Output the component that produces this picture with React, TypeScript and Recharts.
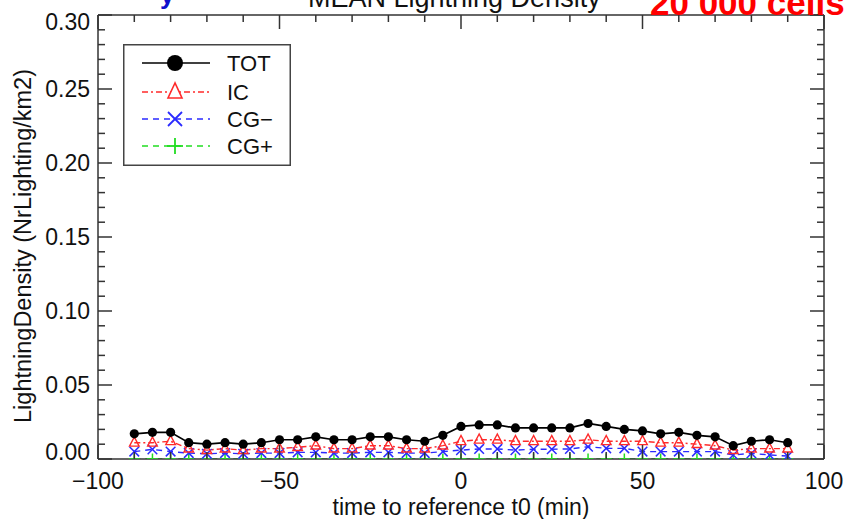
import React from 'react';
import { LineChart, Line, XAxis, YAxis, Legend } from 'recharts';

const times = [-90, -85, -80, -75, -70, -65, -60, -55, -50, -45, -40, -35, -30, -25, -20, -15, -10, -5, 0, 5, 10, 15, 20, 25, 30, 35, 40, 45, 50, 55, 60, 65, 70, 75, 80, 85, 90];
const tot = [0.017, 0.018, 0.018, 0.011, 0.010, 0.011, 0.010, 0.011, 0.013, 0.013, 0.015, 0.013, 0.013, 0.015, 0.015, 0.013, 0.012, 0.016, 0.022, 0.023, 0.023, 0.021, 0.021, 0.021, 0.021, 0.024, 0.022, 0.020, 0.019, 0.017, 0.018, 0.016, 0.015, 0.009, 0.012, 0.013, 0.011];
const ic = [0.011, 0.011, 0.012, 0.007, 0.006, 0.007, 0.006, 0.007, 0.007, 0.008, 0.009, 0.007, 0.007, 0.009, 0.009, 0.007, 0.007, 0.009, 0.012, 0.013, 0.013, 0.012, 0.012, 0.012, 0.012, 0.013, 0.012, 0.012, 0.012, 0.011, 0.011, 0.010, 0.009, 0.006, 0.007, 0.007, 0.007];
const cgMinus = [0.005, 0.0065, 0.005, 0.004, 0.0035, 0.004, 0.0035, 0.004, 0.004, 0.0045, 0.0045, 0.004, 0.004, 0.0045, 0.0045, 0.004, 0.004, 0.005, 0.006, 0.0068, 0.0068, 0.006, 0.0066, 0.0066, 0.0068, 0.0083, 0.0072, 0.0072, 0.005, 0.005, 0.005, 0.005, 0.005, 0.0027, 0.0038, 0.0027, 0.002];
const cgPlus = [0, 0, 0, 0, 0, 0, 0, 0, 0, 0, 0, 0, 0, 0, 0, 0, 0, 0, 0, 0, 0, 0, 0, 0, 0, 0, 0, 0, 0, 0, 0, 0, 0, 0, 0, 0, 0];

const seriesNames = ['TOT', 'IC', 'CG\u2212', 'CG+'];
const xTicks = [-100, -90, -80, -70, -60, -50, -40, -30, -20, -10, 0, 10, 20, 30, 40, 50, 60, 70, 80, 90, 100];
const xMajor = [-100, -50, 0, 50, 100];
const yTicks = [0, 0.01, 0.02, 0.03, 0.04, 0.05, 0.06, 0.07, 0.08, 0.09, 0.1, 0.11, 0.12, 0.13, 0.14, 0.15, 0.16, 0.17, 0.18, 0.19, 0.2, 0.21, 0.22, 0.23, 0.24, 0.25, 0.26, 0.27, 0.28, 0.29, 0.3];
const yMajor = [0, 0.05, 0.1, 0.15, 0.2, 0.25, 0.3];
const titleParts = ['y', 'MEAN Lightning Density', '20 000 cells'];
const xTitle = 'time to reference t0 (min)';
const yTitle = 'LightningDensity (NrLighting/km2)';

const data = times.map((t, i) => ({ t, TOT: tot[i], IC: ic[i], CGm: cgMinus[i], CGp: cgPlus[i] }));

const FONT = '"Liberation Sans", Arial, Helvetica, sans-serif';
const AX = '#333';
const RED = '#ff2a2a';
const BLUE = '#2a2aff';
const GREEN = '#22dd22';

const isMajorY = (v: number) => yMajor.some((m) => Math.abs(m - v) < 1e-9);
const fmtX = (v: number) => (v < 0 ? '\u2212' + Math.abs(v) : String(v));

const BottomTick = (p: any) => {
  const { x, y, payload } = p;
  const major = xMajor.includes(payload.value);
  return (
    <g>
      <line x1={x} x2={x} y1={y} y2={y - (major ? 14 : 7)} stroke={AX} strokeWidth={1.5} />
      {major && (
        <text x={x} y={y + 30} textAnchor="middle" fontSize={23} fontFamily={FONT} fill="#111">
          {fmtX(payload.value)}
        </text>
      )}
    </g>
  );
};
const TopTick = (p: any) => {
  const { x, y, payload } = p;
  const major = xMajor.includes(payload.value);
  return <line x1={x} x2={x} y1={y} y2={y + (major ? 14 : 7)} stroke={AX} strokeWidth={1.5} />;
};
const LeftTick = (p: any) => {
  const { x, y, payload } = p;
  const major = isMajorY(payload.value);
  const ly = Math.min(Math.max(y, 22), 452);
  return (
    <g>
      <line x1={x} x2={x + (major ? 14 : 7)} y1={y} y2={y} stroke={AX} strokeWidth={1.5} />
      {major && (
        <text x={x - 8} y={ly} textAnchor="end" dominantBaseline="central" fontSize={23} fontFamily={FONT} fill="#111">
          {payload.value.toFixed(2)}
        </text>
      )}
    </g>
  );
};
const RightTick = (p: any) => {
  const { x, y, payload } = p;
  const major = isMajorY(payload.value);
  return <line x1={x} x2={x - (major ? 14 : 7)} y1={y} y2={y} stroke={AX} strokeWidth={1.5} />;
};

const Circle = (p: any) => <circle cx={p.cx} cy={p.cy} r={4.6} fill="#000" />;
const Tri = (p: any) => {
  const { cx, cy } = p;
  const s = 4.8;
  return <polygon points={`${cx},${cy - s * 1.2} ${cx - s},${cy + s * 0.7} ${cx + s},${cy + s * 0.7}`} fill="none" stroke={RED} strokeWidth={1.4} />;
};
const Cross = (p: any) => {
  const { cx, cy } = p;
  const s = 4.8;
  return (
    <g stroke={BLUE} strokeWidth={1.5}>
      <line x1={cx - s} y1={cy - s} x2={cx + s} y2={cy + s} />
      <line x1={cx - s} y1={cy + s} x2={cx + s} y2={cy - s} />
    </g>
  );
};
const Plus = (p: any) => {
  const { cx, cy } = p;
  const s = 5.5;
  return (
    <g stroke={GREEN} strokeWidth={1.5}>
      <line x1={cx - s} y1={cy} x2={cx + s} y2={cy} />
      <line x1={cx} y1={cy - s} x2={cx} y2={cy + s} />
    </g>
  );
};

const LegendBox = () => {
  const rows = [19, 48, 75, 102];
  const styles = [
    { color: '#000', dash: undefined },
    { color: RED, dash: '6 3 2 3' },
    { color: BLUE, dash: '6 5' },
    { color: GREEN, dash: '6 5' },
  ];
  const mx = 52;
  return (
    <svg width={168} height={122} style={{ display: 'block' }}>
      <rect x={0.75} y={0.75} width={166.5} height={120.5} fill="#fff" stroke="#444" strokeWidth={1.5} />
      {seriesNames.map((n, i) => {
        const y = rows[i];
        const st = styles[i];
        let marker: React.ReactNode = null;
        if (i === 0) marker = <circle cx={mx} cy={y} r={8} fill="#000" />;
        if (i === 1) marker = <polygon points={`${mx},${y - 9} ${mx - 7},${y + 6} ${mx + 7},${y + 6}`} fill="#fff" stroke={RED} strokeWidth={1.6} />;
        if (i === 2)
          marker = (
            <g stroke={BLUE} strokeWidth={1.8}>
              <line x1={mx - 7} y1={y - 7} x2={mx + 7} y2={y + 7} />
              <line x1={mx - 7} y1={y + 7} x2={mx + 7} y2={y - 7} />
            </g>
          );
        if (i === 3)
          marker = (
            <g stroke={GREEN} strokeWidth={1.8}>
              <line x1={mx - 8} y1={y} x2={mx + 8} y2={y} />
              <line x1={mx} y1={y - 8} x2={mx} y2={y + 8} />
            </g>
          );
        return (
          <g key={n}>
            <line x1={19} x2={87} y1={y} y2={y} stroke={st.color} strokeWidth={1.5} strokeDasharray={st.dash} />
            {marker}
            <text x={104} y={y} dominantBaseline="central" fontSize={22} fontFamily={FONT} fill="#111">
              {n}
            </text>
          </g>
        );
      })}
    </svg>
  );
};

export default function App() {
  return (
    <div style={{ position: 'absolute', left: 0, top: 0, width: 846, height: 519, overflow: 'hidden', background: '#fff' }}>
      <LineChart width={846} height={519} data={data} margin={{ top: 14, right: 21, bottom: 59, left: 97 }}>
        <XAxis
          xAxisId="b"
          dataKey="t"
          type="number"
          domain={[-100, 100]}
          ticks={xTicks}
          interval={0}
          height={1}
          tickSize={0}
          tickMargin={0}
          tick={<BottomTick />}
          axisLine={{ stroke: AX, strokeWidth: 1.5 }}
          tickLine={false}
          allowDataOverflow
          label={{
            content: () => (
              <text x={461} y={515} textAnchor="middle" fontSize={23} fontFamily={FONT} fill="#111">
                {xTitle}
              </text>
            ),
          }}
        />
        <XAxis
          xAxisId="t"
          orientation="top"
          dataKey="t"
          type="number"
          domain={[-100, 100]}
          ticks={xTicks}
          interval={0}
          height={1}
          tickSize={0}
          tickMargin={0}
          tick={<TopTick />}
          axisLine={{ stroke: AX, strokeWidth: 1.5 }}
          tickLine={false}
          allowDataOverflow
        />
        <YAxis
          yAxisId="l"
          type="number"
          domain={[0, 0.3]}
          ticks={yTicks}
          interval={0}
          width={1}
          tickSize={0}
          tickMargin={0}
          tick={<LeftTick />}
          axisLine={{ stroke: AX, strokeWidth: 1.5 }}
          tickLine={false}
          allowDataOverflow
          label={{
            content: () => (
              <text x={23} y={246} transform="rotate(-90 23 246)" textAnchor="middle" dominantBaseline="central" fontSize={23.5} fontFamily={FONT} fill="#111">
                {yTitle}
              </text>
            ),
          }}
        />
        <YAxis
          yAxisId="r"
          orientation="right"
          type="number"
          domain={[0, 0.3]}
          ticks={yTicks}
          interval={0}
          width={1}
          tickSize={0}
          tickMargin={0}
          tick={<RightTick />}
          axisLine={{ stroke: AX, strokeWidth: 1.5 }}
          tickLine={false}
          allowDataOverflow
        />
        <Legend
          layout="vertical"
          align="center"
          verticalAlign="middle"
          content={() => <LegendBox />}
          wrapperStyle={{ left: 123, top: 44, width: 168, height: 122 }}
        />
        <Line xAxisId="b" yAxisId="l" dataKey="CGp" stroke={GREEN} strokeWidth={1.4} strokeDasharray="6 5" dot={<Plus />} isAnimationActive={false} />
        <Line xAxisId="b" yAxisId="l" dataKey="CGm" stroke={BLUE} strokeWidth={1.4} strokeDasharray="6 5" dot={<Cross />} isAnimationActive={false} />
        <Line xAxisId="b" yAxisId="l" dataKey="IC" stroke={RED} strokeWidth={1.4} strokeDasharray="6 3 2 3" dot={<Tri />} isAnimationActive={false} />
        <Line xAxisId="b" yAxisId="l" dataKey="TOT" stroke="#000" strokeWidth={1.7} dot={<Circle />} isAnimationActive={false} />
      </LineChart>
      <svg width={846} height={30} style={{ position: 'absolute', left: 0, top: 0, pointerEvents: 'none' }}>
        <text x={160} y={4} fontSize={26} fontWeight="bold" fontFamily={FONT} fill="#1010cc">
          {titleParts[0]}
        </text>
        <text x={308} y={7} fontSize={27} fontFamily={FONT} fill="#111">
          {titleParts[1]}
        </text>
        <text x={650} y={15} fontSize={35} fontWeight="bold" fontFamily={FONT} fill="#ff0000">
          {titleParts[2]}
        </text>
      </svg>
    </div>
  );
}
